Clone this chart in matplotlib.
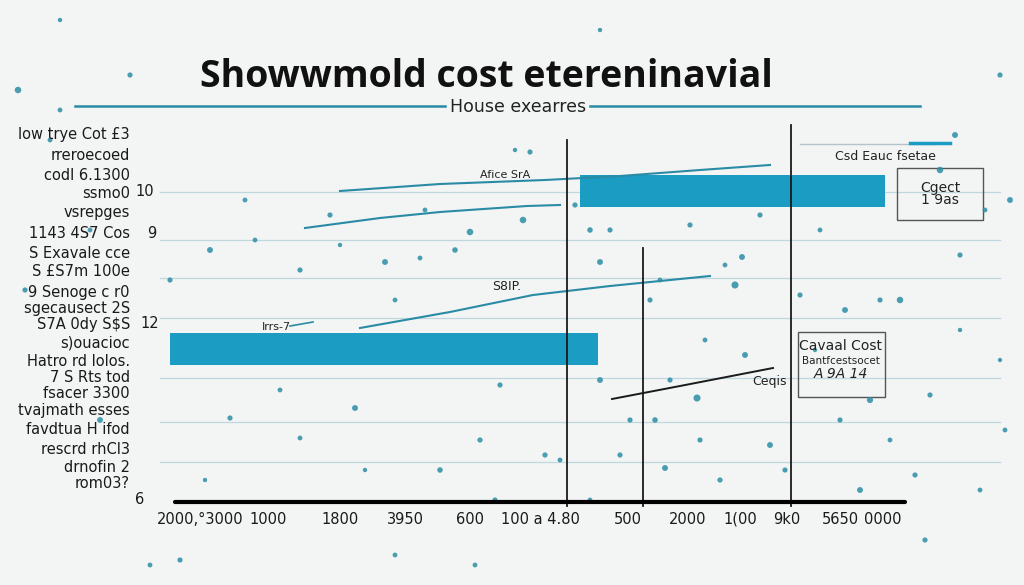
import matplotlib.pyplot as plt

# chart coordinates (pixel-like units of the plot canvas)
bar_y = [191, 349]
bar_left = [580, 170]
bar_right = [885, 598]
bar_h = 32

line1_x = [340, 440, 545, 620, 700, 770]
line1_y = [191, 184, 180, 176, 170, 165]
line2_x = [305, 380, 440, 527, 560]
line2_y = [228, 218, 212, 206, 205]
line3_x = [290, 313]
line3_y = [326, 322]
line4_x = [360, 450, 533, 610, 670, 710]
line4_y = [328, 312, 295, 286, 280, 276]
black_x = [612, 680, 773]
black_y = [399, 386, 368]

vline_x = [567, 643, 791]
vline_top = [140, 248, 125]

grid_y = [192, 240, 278, 318, 378, 422, 462]

xtick_pos = [200, 268, 340, 405, 470, 540, 628, 688, 740, 787, 840, 883]
xtick_labels = ['2000,°3000', '1000', '1800', '3950', '600', '100 a 4.80', '500',
                '2000', '1(00', '9k0', '5650', '0000']

ylab_y = [135, 155, 175, 193, 213, 234, 254, 272, 292, 308, 325, 343, 362, 378,
          394, 411, 429, 450, 467, 483]
ylab_text = ['low trye Cot £3', 'rreroecoed', 'codl 6.1300', 'ssmo0', 'vsrepges',
             '1143 4S7 Cos', 'S Exavale cce', 'S £S7m 100e', '9 Senoge c r0',
             'sgecausect 2S', 'S7A 0dy S$S', 's)ouacioc', 'Hatro rd lolos.',
             '7 S Rts tod', 'fsacer 3300', 'tvajmath esses', 'favdtua H ifod',
             'rescrd rhCl3', 'drnofin 2', 'rom03?']
ynum_text = ['10', '9', '12', '6']
ynum_x = [135, 147, 140, 135]
ynum_y = [192, 234, 324, 500]

dots_x = [18, 50, 25, 100, 530, 735, 170, 255, 300, 385, 425, 470, 420, 523, 590,
          600, 650, 697, 670, 630, 665, 720, 560, 440, 300, 230, 355, 480, 500, 620,
          770, 840, 870, 900, 960, 940, 930, 860, 925, 980, 1005, 870, 820, 742, 800,
          845, 880, 700, 590, 245, 330, 210, 610, 725, 760, 955, 1000, 60, 180, 475,
          395, 545, 600, 690, 150, 1010, 130, 340, 395, 455, 515, 575, 655, 705, 745,
          785, 815, 890, 915, 960, 985, 1000, 60, 90, 205, 280, 365, 495, 660, 600]
dots_y = [90, 140, 290, 420, 152, 285, 280, 240, 270, 262, 210, 232, 258, 220, 230,
          262, 300, 398, 380, 420, 468, 480, 460, 470, 438, 418, 408, 440, 385, 455,
          445, 420, 400, 300, 255, 170, 395, 490, 540, 490, 430, 180, 230, 257, 295,
          310, 300, 440, 500, 200, 215, 250, 230, 265, 215, 135, 75, 110, 560, 565,
          555, 455, 380, 225, 565, 200, 75, 245, 300, 250, 150, 205, 420, 340, 355,
          470, 350, 440, 475, 330, 210, 360, 20, 230, 480, 390, 470, 500, 280, 30]
dots_s = [22, 12, 14, 18, 14, 26, 14, 12, 14, 18, 12, 22, 12, 22, 16,
          18, 14, 26, 14, 14, 18, 14, 12, 16, 12, 14, 18, 14, 14, 14,
          18, 14, 20, 22, 14, 22, 14, 18, 14, 12, 12, 14, 12, 18, 14,
          18, 14, 14, 12, 12, 14, 18, 14, 12, 14, 18, 14, 12, 14, 12,
          12, 14, 18, 14, 12, 18, 14, 10, 12, 16, 10, 14, 16, 12, 18,
          14, 10, 12, 14, 10, 12, 10, 10, 12, 10, 12, 10, 14, 12, 10]

teal = '#1b9cc2'
dot_c = '#2c8ea6'

fig = plt.figure(figsize=(10.24, 5.85), dpi=100)
fig.patch.set_facecolor('#f3f4f4')
ax = fig.add_axes([170 / 1024, (585 - 502) / 585, 735 / 1024, 377 / 585])
ax.set_xlim(170, 905)
ax.set_ylim(502, 125)
ax.set_facecolor('none')
for s in ['top', 'right', 'left', 'bottom']:
    ax.spines[s].set_visible(False)

# faint gridlines
for gy in grid_y:
    ax.plot([160, 1000], [gy, gy], color='#a9cdd8', lw=0.9, alpha=0.7, clip_on=False, zorder=1)

# dots
ax.scatter(dots_x, dots_y, s=dots_s, color=dot_c, alpha=0.85, lw=0, clip_on=False, zorder=2)

# bars
ax.barh(bar_y, [r - l for l, r in zip(bar_left, bar_right)], left=bar_left, height=bar_h,
        color=teal, zorder=3)

# lines
ax.plot(line1_x, line1_y, color='#2a8ba5', lw=1.5, zorder=4)
ax.plot(line2_x, line2_y, color='#2a8ba5', lw=1.5, zorder=4)
ax.plot(line3_x, line3_y, color='#2a8ba5', lw=1.2, zorder=4)
ax.plot(line4_x, line4_y, color='#2a8ba5', lw=1.5, zorder=4)
ax.plot(black_x, black_y, color='#1a1a1a', lw=1.4, zorder=4)

# vertical lines
for vx, vt in zip(vline_x, vline_top):
    ax.plot([vx, vx], [vt, 506], color='#1a1a1a', lw=1.3, clip_on=False, zorder=5)

# base axis line
ax.plot([175, 905], [502, 502], color='black', lw=3, clip_on=False, solid_capstyle='round', zorder=6)

ax.set_xticks(xtick_pos)
ax.set_xticklabels(xtick_labels, fontsize=10.5, color='#1a1a1a')
ax.tick_params(axis='x', length=0, pad=7)
ax.set_yticks([])

# left labels
for t, yy in zip(ylab_text, ylab_y):
    ax.text(130, yy, t, ha='right', va='center', fontsize=10.5, color='#1a1a1a', clip_on=False)
for t, xx, yy in zip(ynum_text, ynum_x, ynum_y):
    ax.text(xx, yy, t, ha='left', va='center', fontsize=10.5, color='#1a1a1a', clip_on=False)

# inline labels
ax.text(505, 175, 'Afice SrA', fontsize=8, ha='center', va='center', color='#222')
ax.text(507, 287, 'S8IP.', fontsize=9, ha='center', va='center', color='#222')
ax.text(276, 327, 'Irrs-7', fontsize=8, ha='center', va='center', color='#222')
ax.text(770, 381, 'Ceqis', fontsize=9, ha='center', va='center', color='#222')
ax.text(885, 157, 'Csd Eauc fsetae', fontsize=9, ha='center', va='center', color='#222', clip_on=False)

# top-right rule
ax.plot([800, 935], [144, 144], color='#b5c3c8', lw=1, clip_on=False)
ax.plot([910, 950], [143, 143], color=teal, lw=2.5, clip_on=False)

# boxes
ax.add_patch(plt.Rectangle((897, 168), 86, 52, fill=False, ec='#555', lw=1, clip_on=False))
ax.text(940, 194, 'Cgect\n1 9as', fontsize=10, ha='center', va='center', color='#222',
        linespacing=0.9, clip_on=False)
ax.add_patch(plt.Rectangle((798, 332), 87, 65, fill=False, ec='#555', lw=1, clip_on=False))
ax.text(841, 346, 'Cavaal Cost', fontsize=10, ha='center', va='center', color='#222')
ax.text(841, 361, 'Bantfcestsocet', fontsize=7.5, ha='center', va='center', color='#222')
ax.text(841, 374, 'A 9A 14', fontsize=10, ha='center', va='center', color='#222', style='italic')

# title
fig.text(486 / 1024, 1 - 77 / 585, 'Showwmold cost etereninavial', fontsize=27, fontweight='bold',
         ha='center', va='center', color='#111', family='Open Sans')
fig.text(518 / 1024, 1 - 107 / 585, 'House exearres', fontsize=12.5, ha='center', va='center',
         color='#222')
ax.plot([75, 445], [106, 106], color='#2a8ba5', lw=1.8, clip_on=False)
ax.plot([590, 920], [106, 106], color='#2a8ba5', lw=1.8, clip_on=False)

fig.savefig('out.png', dpi=100, facecolor=fig.get_facecolor())
